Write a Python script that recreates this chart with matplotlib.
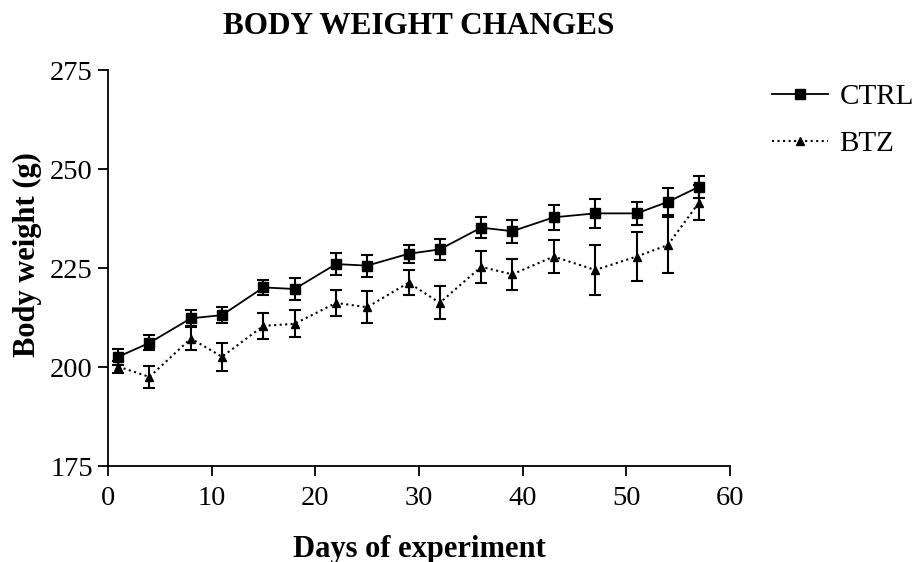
import matplotlib.pyplot as plt
import numpy as np

days = [1, 4, 8, 11, 15, 18, 22, 25, 29, 32, 36, 39, 43, 47, 51, 54, 57]

ctrl_mean = [202.6, 206.1, 212.3, 213.1, 220.1, 219.7, 226.0, 225.6, 228.6,
             229.7, 235.2, 234.3, 237.8, 238.8, 238.8, 241.7, 245.5]
ctrl_sem = [2.0, 1.9, 2.0, 2.0, 1.9, 2.8, 2.8, 2.8, 2.3,
            2.7, 2.6, 2.9, 3.2, 3.6, 2.9, 3.4, 2.7]

btz_mean = [200.1, 197.5, 207.2, 202.6, 210.4, 210.9, 216.2, 215.1, 221.3,
            216.2, 225.3, 223.4, 227.9, 224.5, 227.9, 230.8, 241.5]
btz_sem = [1.5, 2.8, 3.0, 3.5, 3.2, 3.4, 3.2, 4.1, 3.2,
           4.2, 4.0, 4.0, 4.2, 6.3, 6.3, 7.1, 4.5]

plt.rcParams['font.family'] = ['Liberation Serif', 'DejaVu Serif']

fig = plt.figure(figsize=(9.18, 5.62), dpi=100)
ax = fig.add_axes([0.1176, 0.1708, 0.6776, 0.7046])

ax.errorbar(days, ctrl_mean, yerr=ctrl_sem, color='black', linestyle='-',
            linewidth=1.3, marker='s', markersize=7, capsize=4, capthick=1.5,
            elinewidth=1.5, label='CTRL')
ax.errorbar(days, btz_mean, yerr=btz_sem, color='black', linestyle=':',
            linewidth=1.5, marker='^', markersize=6, capsize=4, capthick=1.5,
            elinewidth=1.5, label='BTZ')

ax.set_xlim(0, 60)
ax.set_ylim(175, 275)
ax.set_xticks(np.arange(0, 61, 10))
ax.set_yticks(np.arange(175, 276, 25))
ax.spines['top'].set_visible(False)
ax.spines['right'].set_visible(False)
ax.spines['left'].set_linewidth(1.3)
ax.spines['bottom'].set_linewidth(1.3)
ax.tick_params(direction='out', length=7, width=1.3, labelsize=20.5)
ax.tick_params(axis='x', pad=7.5)
ax.tick_params(axis='y', pad=4)

ax.set_xlabel('Days of experiment', fontsize=22, fontweight='bold', labelpad=17)
ax.set_ylabel('Body weight (g)', fontsize=22, fontweight='bold')
ax.yaxis.set_label_coords(-0.106, 0.535)
ax.set_title('BODY WEIGHT CHANGES', fontsize=22.5, fontweight='bold', pad=26)

handles, labels = ax.get_legend_handles_labels()
handles = [h[0] for h in handles]
ax.legend(handles, labels, loc='upper left', bbox_to_anchor=(1.048, 0.995),
          frameon=False, fontsize=21, handlelength=1.92, handletextpad=0.41,
          labelspacing=0.7, borderaxespad=0)

fig.savefig('out.png', dpi=100)
